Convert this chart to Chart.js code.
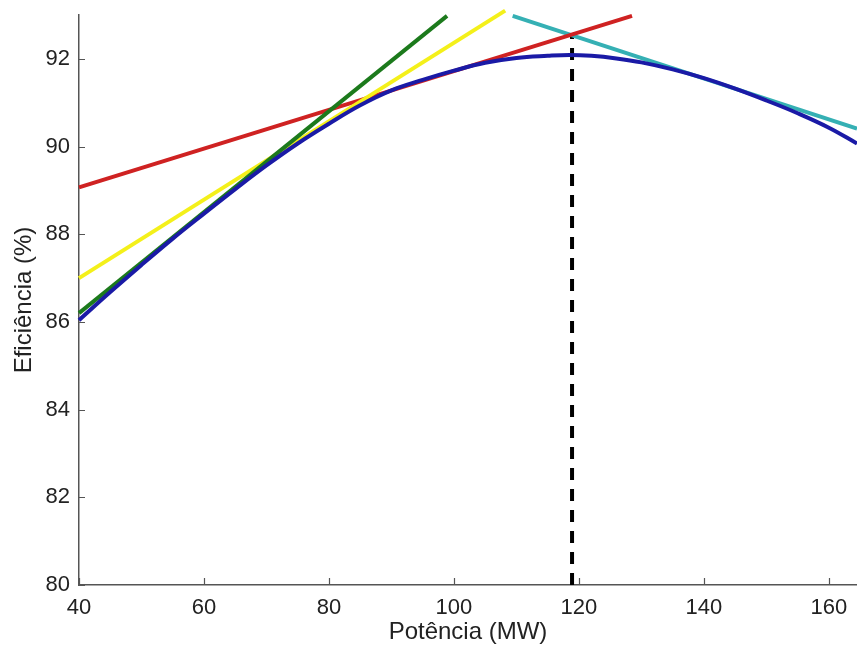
<!DOCTYPE html>
<html>
<head>
<meta charset="utf-8">
<script src="https://cdn.jsdelivr.net/npm/chart.js@4.4.0/dist/chart.umd.min.js"></script>
<style>
  html, body { margin: 0; padding: 0; background: #fff; }
  #wrap { width: 857px; height: 656px; position: relative; }
</style>
</head>
<body>
<div id="wrap"><canvas id="chart"></canvas></div>
<script>
// efficiency curve (blue)
const powerMW = [40, 45, 50, 55, 60, 65, 70, 75, 80, 85, 90, 95, 100, 105, 110, 115, 118.5, 122, 126, 130, 135, 140, 145, 150, 155, 160, 164.5];
const efficiency = [86.04, 86.68, 87.3, 87.9, 88.47, 89.03, 89.57, 90.07, 90.52, 90.94, 91.28, 91.52, 91.73, 91.91, 92.02, 92.07, 92.09, 92.07, 92.01, 91.92, 91.76, 91.56, 91.32, 91.05, 90.76, 90.43, 90.07];

// tangent lines: [x start, x end] and [y start, y end]
const greenX = [40, 98.9],   greenY = [86.2, 92.98];
const yellowX = [40, 108.2], yellowY = [87.0, 93.1];
const redX = [40, 128.5],    redY = [89.07, 92.98];
const cyanX = [109.4, 164.5], cyanY = [92.98, 90.41];

// optimum marker (dashed)
const optX = [118.9, 118.9], optY = [80, 92.55];

const xTicks = [40, 60, 80, 100, 120, 140, 160];
const yTicks = [80, 82, 84, 86, 88, 90, 92];

const pts = (xs, ys) => xs.map((x, i) => ({ x: x, y: ys[i] }));

function line(label, data, color, extra) {
    return Object.assign({
        label: label,
        data: data,
        showLine: true,
        borderColor: color,
        backgroundColor: color,
        borderWidth: 4,
        pointRadius: 0,
        fill: false,
        clip: false
    }, extra || {});
}

// small inward tick marks, MATLAB style
const innerTicks = {
    id: 'innerTicks',
    afterDraw(chart) {
        const ctx = chart.ctx;
        const xs = chart.scales.x, ys = chart.scales.y;
        const area = chart.chartArea;
        ctx.save();
        ctx.strokeStyle = '#555';
        ctx.lineWidth = 1.2;
        ctx.beginPath();
        xTicks.forEach(v => {
            const px = Math.round(xs.getPixelForValue(v)) + 0.5;
            ctx.moveTo(px, area.bottom);
            ctx.lineTo(px, area.bottom - 7);
        });
        yTicks.forEach(v => {
            const py = Math.round(ys.getPixelForValue(v)) + 0.5;
            ctx.moveTo(area.left, py);
            ctx.lineTo(area.left + 6, py);
        });
        ctx.stroke();
        ctx.restore();
    }
};

new Chart(document.getElementById('chart'), {
    type: 'scatter',
    data: {
        datasets: [
            line('Eficiência', pts(powerMW, efficiency), '#1a1aa6', { tension: 0.4 }),
            line('t1', pts(greenX, greenY), '#1c7a1c'),
            line('t2', pts(yellowX, yellowY), '#f4f01a'),
            line('t3', pts(redX, redY), '#cf2222'),
            line('t4', pts(cyanX, cyanY), '#35b0b4'),
            line('ótimo', pts(optX, optY), '#000000', { borderWidth: 4, borderDash: [12, 9] })
        ]
    },
    options: {
        responsive: true,
        maintainAspectRatio: false,
        animation: false,
        layout: { padding: { top: 15, right: 0, bottom: 0, left: 0 } },
        plugins: {
            legend: { display: false },
            tooltip: { enabled: false }
        },
        scales: {
            x: {
                type: 'linear',
                min: 40,
                max: 164.5,
                grid: { display: false, drawTicks: false },
                border: { display: true, color: '#555', width: 1.5 },
                ticks: {
                    stepSize: 20,
                    includeBounds: false,
                    padding: 10,
                    color: '#222',
                    font: { family: 'Liberation Sans, Arial, sans-serif', size: 22 }
                },
                title: {
                    display: true,
                    text: 'Potência (MW)',
                    color: '#222',
                    padding: { top: 0, bottom: 9 },
                    font: { family: 'Liberation Sans, Arial, sans-serif', size: 24 }
                },
                afterFit(scale) {
                    scale.height = 71;
                    scale.paddingLeft = 0;
                    scale.paddingRight = 0;
                }
            },
            y: {
                type: 'linear',
                min: 80,
                max: 93,
                grid: { display: false, drawTicks: false },
                border: { display: true, color: '#555', width: 1.5 },
                ticks: {
                    stepSize: 2,
                    includeBounds: false,
                    padding: 9,
                    color: '#222',
                    font: { family: 'Liberation Sans, Arial, sans-serif', size: 22 }
                },
                title: {
                    display: true,
                    text: 'Eficiência (%)',
                    color: '#222',
                    padding: { top: 10, bottom: 0 },
                    font: { family: 'Liberation Sans, Arial, sans-serif', size: 24 }
                },
                afterFit(scale) {
                    scale.width = 79;
                    scale.paddingTop = 0;
                    scale.paddingBottom = 0;
                }
            }
        }
    },
    plugins: [innerTicks]
});
</script>
</body>
</html>
